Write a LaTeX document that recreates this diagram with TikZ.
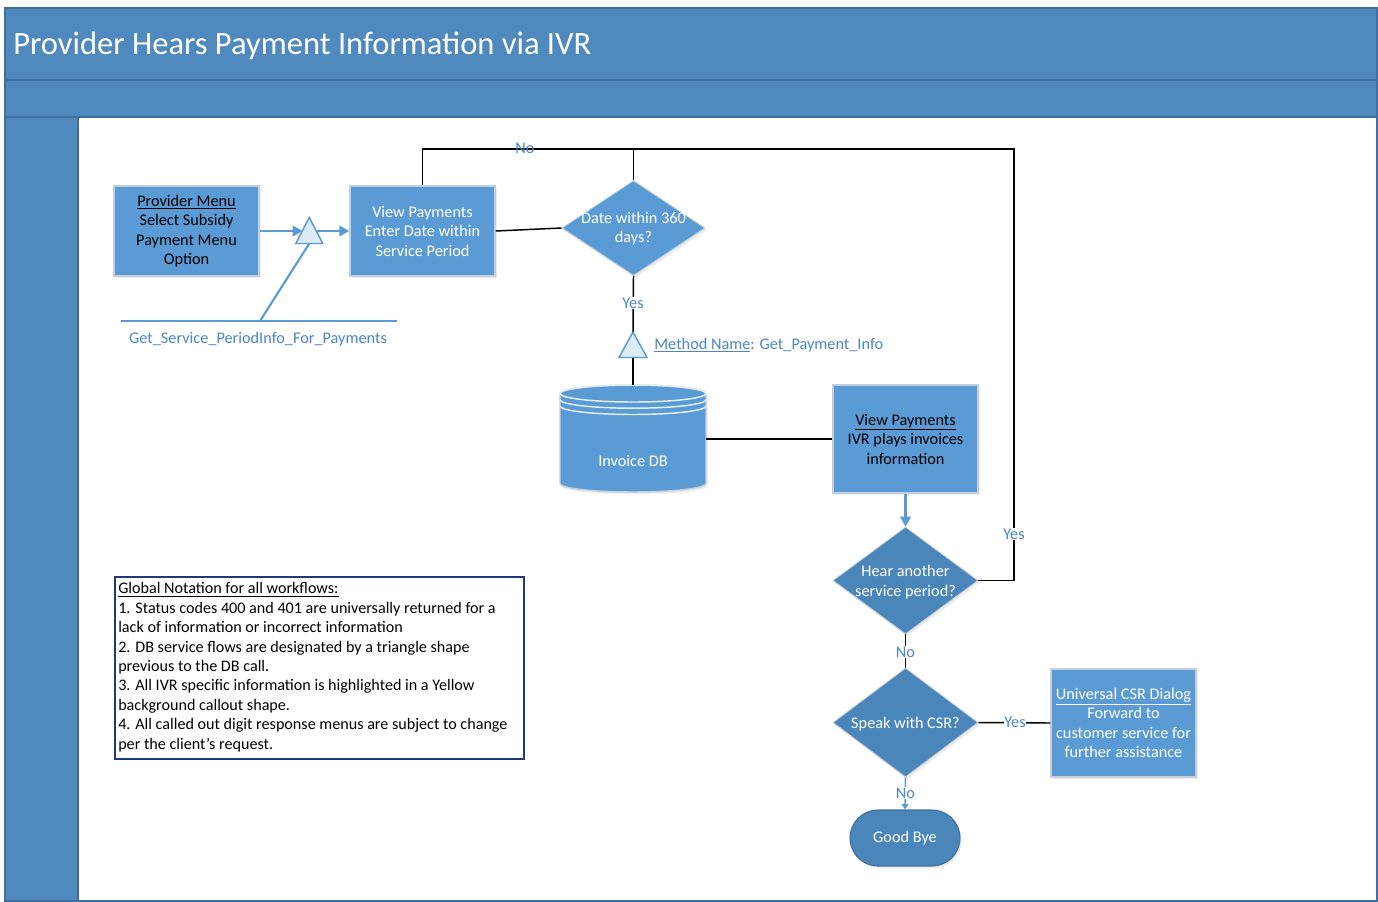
\documentclass[tikz,border=0pt]{standalone}
\usepackage{fontspec}
\setmainfont{Carlito}
\usetikzlibrary{shapes.geometric,arrows.meta,calc,shadows}
\definecolor{band}{HTML}{5089BE}
\definecolor{bandline}{HTML}{3F6F9E}
\definecolor{boxblue}{HTML}{5B9BD5}
\definecolor{darkblue}{HTML}{4A86BA}
\definecolor{darkedge}{HTML}{41719C}
\definecolor{boxedge}{HTML}{C3CFDC}
\definecolor{lblue}{HTML}{4A86C8}
\definecolor{trifill}{HTML}{DDEBF7}
\definecolor{navy}{HTML}{1F3A78}
\definecolor{dbline}{HTML}{E4EEF8}
\begin{document}
\begin{tikzpicture}[x=0.75pt,y=-0.75pt,
  body/.style={font=\fontsize{12.2}{14.6}\selectfont},
  shade/.style={drop shadow={opacity=0.15,shadow xshift=1.2pt,shadow yshift=-1.8pt}},
  procbox/.style={body,rectangle,fill=boxblue,draw=boxedge,line width=1.1pt,
    minimum width=108.75pt,inner sep=0pt,align=center,shade},
  decbox/.style={diamond,fill=#1,draw=boxedge,line width=0.6pt,inner sep=0pt,shade},
  dectext/.style={body,text=white,align=center,inner sep=0pt},
  lbl/.style={body,text=lblue,inner sep=0.8pt},
  tribox/.style={fill=trifill,draw=boxblue,line width=1.1pt,line join=miter},
  conn/.style={line width=1.1pt,draw=black},
  bconn/.style={line width=1.6pt,draw=boxblue},
  barrow/.style={bconn,-{Triangle[length=7.5pt,width=8pt]}},
]
\useasboundingbox (0,0) rectangle (1378,901);

% swimlane frame: title band, header band, side lane
\fill[band] (5,8) rectangle (1377,901);
\fill[white] (78,117) rectangle (1377,901);
\draw[bandline,line width=0.9pt] (5,8) rectangle (1377,901);
\draw[bandline,line width=0.9pt] (5,80) -- (1377,80);
\draw[bandline,line width=0.9pt] (5,117) -- (1377,117);
\draw[bandline,line width=0.9pt] (78,117) -- (78,901);
\node[anchor=base west,text=white,font=\fontsize{24.4}{28}\selectfont,inner sep=0pt] (title) at (13,54)
  {Provider Hears Payment Information via IVR};

% process boxes
\node[procbox,minimum height=67.5pt,text=black] (pm) at (186.5,231)
  {\underline{Provider Menu}\\Select Subsidy\\Payment Menu\\Option};
\node[procbox,minimum height=67.5pt,text=white] (vp1) at (422.5,231)
  {View Payments\\Enter Date within\\Service Period};
\node[procbox,minimum height=81pt,text=black] (vp2) at (905.5,439)
  {\underline{View Payments}\\IVR plays invoices\\information};
\node[procbox,minimum height=81pt,text=white] (csr) at (1123.5,723)
  {\underline{Universal CSR Dialog}\\Forward to\\customer service for\\further assistance};

% decisions
\node[decbox=boxblue,minimum width=107.25pt,minimum height=71.25pt] (d1) at (633.5,228) {};
\node[dectext] (d1t) at (633.5,228.5) {Date within 360\\days?};
\node[decbox=darkblue,minimum width=108.75pt,minimum height=80.25pt] (d2) at (905.5,580.5) {};
\node[dectext] (d2t) at (905.5,582) {Hear another\\service period?};
\node[decbox=darkblue,minimum width=108.75pt,minimum height=81.75pt] (d3) at (905.5,722.5) {};
\node[dectext] (d3t) at (905.5,724) {Speak with CSR?};

% terminator
\node[body,rectangle,rounded corners=21pt,fill=darkblue,draw=darkedge,line width=0.8pt,
  minimum width=82.5pt,minimum height=42pt,text=white,shade] (bye) at (905,838) {Good Bye};

% database cylinder
\node[inner sep=0pt,minimum width=109.5pt,minimum height=80.25pt] (db) at (633,439) {};
\path[fill=boxblue,draw=boxedge,line width=1.1pt,shade]
  (560,393.5) -- (560,483.5) arc[start angle=180,end angle=0,x radius=73,y radius=8.5]
  -- (706,393.5) arc[start angle=0,end angle=-180,x radius=73,y radius=8.5] -- cycle;
\draw[dbline,line width=1.1pt] (633,393.5) ellipse[x radius=73,y radius=8.5];
\draw[dbline,line width=1.1pt] (560,399.7) arc[start angle=180,end angle=0,x radius=73,y radius=8.5];
\draw[dbline,line width=1.1pt] (560,406) arc[start angle=180,end angle=0,x radius=73,y radius=8.5];
\node[body,text=white] (dbt) at (633,461) {Invoice DB};

% DB service triangles
\draw[tribox] (309.3,217.5) -- (322.8,243.5) -- (295.8,243.5) -- cycle;
\coordinate (t1w) at (302.5,231);
\coordinate (t1e) at (316,231);
\coordinate (t1s) at (309.3,243.5);
\coordinate (t2n) at (633,332);
\coordinate (t2s) at (633,357.5);
\draw[tribox] (633,332) -- (647,357.5) -- (619,357.5) -- cycle;

% service method feeds
\coordinate (gsL) at (121,321);
\coordinate (gsR) at (397,321);
\coordinate (gsJ) at (260,321);
\draw[bconn] (gsL) -- (gsR);
\draw[bconn] (gsJ) -- (t1s);
\node[lbl] (gs) at (258,339) {Get\_Service\_PeriodInfo\_For\_Payments};
\node[lbl,anchor=west] (mn) at (653,345) {\underline{Method Name}: Get\_Payment\_Info};

% flow connectors
\draw[barrow] (pm.east) -- (t1w);
\draw[barrow] (t1e) -- (vp1.west);
\draw[conn] (vp1.east) -- (d1.west);
\coordinate (loopR) at (1014,149);
\draw[conn] (vp1.north) |- (loopR) |- (d2.east);
\draw[conn] (d1.north) -- (d1.north |- loopR);
\node[lbl] (no1) at (525,148) {No};
\node[lbl,fill=white] (yes3) at (1014,534) {Yes};

\draw[conn] (d1.south) -- (t2n);
\node[lbl,fill=white] (yes1) at (633,303) {Yes};
\draw[conn] (t2s) -- (db.north);
\draw[conn] (db.east) -- (vp2.west);
\draw[barrow] (vp2.south) -- (d2.north);
\draw[conn] (d2.south) -- (d3.north);
\node[lbl,fill=white] (no2) at (905.5,652) {No};
\draw[conn] (d3.east) -- (csr.west);
\node[lbl,fill=white,inner sep=0.3pt] (yes2) at (1015,722) {Yes};
\draw[bconn,line width=1.1pt,-{Triangle[length=4pt,width=5pt]}] (d3.south) -- (bye.north);
\node[lbl,fill=white] (no3) at (905.5,793) {No};

% notation legend
\node[draw=navy,line width=1.5pt,anchor=north west,minimum width=306.75pt,
  minimum height=136.5pt,inner sep=0pt] (notes) at (114,576) {};
\node[anchor=north west,align=left,inner sep=0pt,
  font=\fontsize{12.1}{14.55}\selectfont] (notest) at (118,582.5)
  {\underline{Global Notation for all workflows:}\\
   1. Status codes 400 and 401 are universally returned for a\\
   lack of information or incorrect information\\
   2. DB service flows are designated by a triangle shape\\
   previous to the DB call.\\
   3. All IVR specific information is highlighted in a Yellow\\
   background callout shape.\\
   4. All called out digit response menus are subject to change\\
   per the client’s request.};
\end{tikzpicture}
\end{document}
